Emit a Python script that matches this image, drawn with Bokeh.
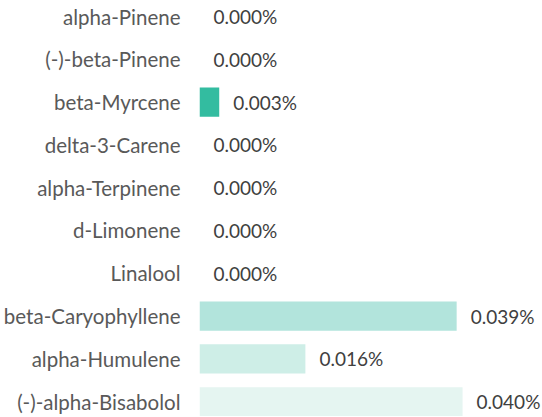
from bokeh.plotting import figure
from bokeh.models import Range1d, FixedTicker, ColumnDataSource
from bokeh.core.properties import value
from bokeh.embed import file_html
from bokeh.resources import INLINE

categories = ["alpha-Pinene", "(-)-beta-Pinene", "beta-Myrcene", "delta-3-Carene",
              "alpha-Terpinene", "d-Limonene", "Linalool", "beta-Caryophyllene",
              "alpha-Humulene", "(-)-alpha-Bisabolol"]
values = [0.0, 0.0, 0.0030, 0.0, 0.0, 0.0, 0.0, 0.0391, 0.0161, 0.0400]
value_labels = ["0.000%", "0.000%", "0.003%", "0.000%", "0.000%", "0.000%",
                "0.000%", "0.039%", "0.016%", "0.040%"]
bar_colors = ["#33bca0", "#33bca0", "#33bca0", "#33bca0", "#33bca0", "#33bca0",
              "#33bca0", "#b2e4dc", "#ceeee7", "#e5f5f1"]

FONT = "Lato"
idx = list(range(len(categories)))
src = ColumnDataSource(dict(y=idx, v=values, lab=value_labels, c=bar_colors))

# frame: 342 px wide for 0.052 units (~6575 px per unit)
p = figure(width=541, height=416, output_backend="svg", toolbar_location=None,
           x_range=Range1d(0, 0.0520), y_range=Range1d(9.346, -0.374),
           min_border_left=199, min_border_right=0, min_border_top=0,
           min_border_bottom=0)
p.hbar(y="y", left=0, right="v", height=0.68, fill_color="c", line_color=None,
       source=src)
p.text(x="v", y="y", text="lab", x_offset=14, text_align="left",
       text_baseline="middle", text_font=value(FONT), text_font_size="19px",
       text_color="#404040", source=src)

p.xaxis.visible = False
p.xgrid.visible = False
p.ygrid.visible = False
p.outline_line_color = None
p.yaxis.ticker = FixedTicker(ticks=idx)
p.yaxis.major_label_overrides = {i: c for i, c in enumerate(categories)}
p.yaxis.axis_line_color = None
p.yaxis.major_tick_line_color = None
p.yaxis.minor_tick_line_color = None
p.yaxis.major_tick_out = 0
p.yaxis.major_tick_in = 0
p.yaxis.major_label_standoff = 19
p.yaxis.major_label_text_font = FONT
p.yaxis.major_label_text_font_size = "20.5px"
p.yaxis.major_label_text_color = "#595959"

open("out.html", "w").write(file_html(p, INLINE))
